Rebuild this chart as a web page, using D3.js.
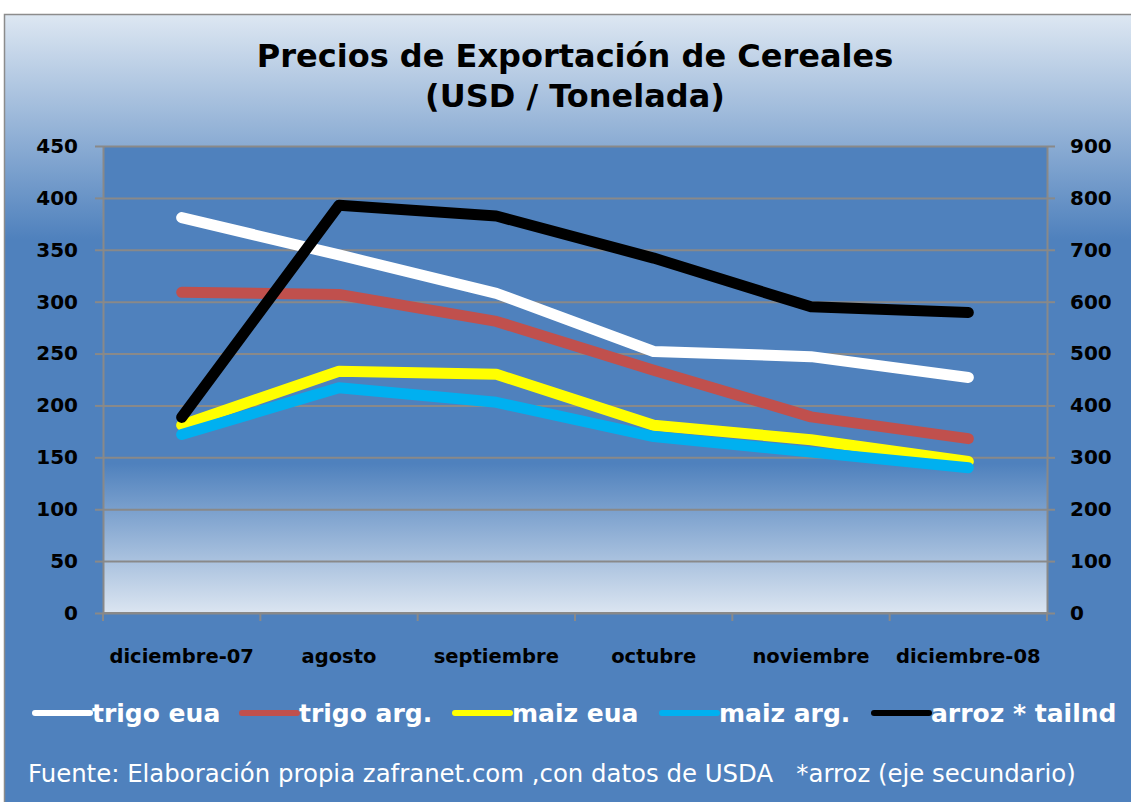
<!DOCTYPE html>
<html>
<head>
<meta charset="utf-8">
<script src="https://cdn.jsdelivr.net/npm/d3@7"></script>
<style>
  body { margin: 0; background: #ffffff; }
  svg { display: block; }
</style>
</head>
<body>
<script>
// datos
var meses = ["diciembre-07", "agosto", "septiembre", "octubre", "noviembre", "diciembre-08"];
var trigoEua  = [381, 345, 308, 252, 247, 227];
var trigoArg  = [309, 307, 281, 234, 189, 168];
var maizEua   = [181, 233, 230, 181, 167, 146];
var maizArg   = [172, 217, 203, 170, 155, 140];
var arroz     = [377, 786, 765, 684, 590, 579]; // eje secundario
var ticksIzq  = [0, 50, 100, 150, 200, 250, 300, 350, 400, 450];
var ticksDer  = [0, 100, 200, 300, 400, 500, 600, 700, 800, 900];

var series = [
  { nombre: "trigo eua",      valores: trigoEua, color: "#ffffff", eje: "izq" },
  { nombre: "trigo arg.",     valores: trigoArg, color: "#c0504d", eje: "izq" },
  { nombre: "maiz eua",       valores: maizEua,  color: "#ffff00", eje: "izq" },
  { nombre: "maiz arg.",      valores: maizArg,  color: "#00b0f0", eje: "izq" },
  { nombre: "arroz * tailnd", valores: arroz,    color: "#000000", eje: "der" }
];

var w = 1131, h = 802;
var pIzq = 103, pDer = 1047, pArriba = 146, pAbajo = 613;
var fuente = "'DejaVu Sans', Verdana, sans-serif";

var svg = d3.select("body").append("svg")
  .attr("width", w)
  .attr("height", h);

var defs = svg.append("defs");
var gFondo = defs.append("linearGradient").attr("id", "fondo")
  .attr("x1", 0).attr("y1", 0).attr("x2", 0).attr("y2", 1);
gFondo.append("stop").attr("offset", 0).attr("stop-color", "#dde7f2");
gFondo.append("stop").attr("offset", 0.28).attr("stop-color", "#4f81bd");
gFondo.append("stop").attr("offset", 1).attr("stop-color", "#4f81bd");

var gPlot = defs.append("linearGradient").attr("id", "plot")
  .attr("x1", 0).attr("y1", 0).attr("x2", 0).attr("y2", 1);
gPlot.append("stop").attr("offset", 0).attr("stop-color", "#4f81bd");
gPlot.append("stop").attr("offset", 0.68).attr("stop-color", "#4f81bd");
gPlot.append("stop").attr("offset", 1).attr("stop-color", "#dbe5f1");

// marco exterior
svg.append("rect")
  .attr("x", 4.5).attr("y", 14.5)
  .attr("width", w + 10).attr("height", h)
  .attr("fill", "url(#fondo)")
  .attr("stroke", "#8c8c8c")
  .attr("stroke-width", 1.5);

// area de trazado
svg.append("rect")
  .attr("x", pIzq).attr("y", pArriba)
  .attr("width", pDer - pIzq).attr("height", pAbajo - pArriba)
  .attr("fill", "url(#plot)");

// titulo
var titulo = svg.append("text")
  .attr("text-anchor", "middle")
  .attr("font-family", fuente)
  .attr("font-weight", "bold")
  .attr("font-size", "32px")
  .attr("fill", "#000");
titulo.append("tspan").attr("x", 575).attr("y", 67).text("Precios de Exportación de Cereales");
titulo.append("tspan").attr("x", 575).attr("y", 107).text("(USD / Tonelada)");

// escalas
var xScale = d3.scaleBand().domain(meses).range([pIzq, pDer]);
var yIzq = d3.scaleLinear().domain([0, 450]).range([pAbajo, pArriba]);
var yDer = d3.scaleLinear().domain([0, 900]).range([pAbajo, pArriba]);

// lineas de cuadricula
svg.append("g")
  .attr("transform", "translate(" + pIzq + ",0)")
  .call(d3.axisLeft(yIzq).tickValues(ticksIzq).tickSize(-(pDer - pIzq)).tickFormat(""))
  .call(function(g) {
    g.select(".domain").remove();
    g.selectAll("line").attr("stroke", "#898989").attr("stroke-width", 2);
  });

// eje izquierdo
svg.append("g")
  .attr("transform", "translate(" + pIzq + ",0)")
  .call(d3.axisLeft(yIzq).tickValues(ticksIzq).tickSize(8).tickSizeOuter(0).tickPadding(17))
  .call(function(g) {
    g.select(".domain").attr("stroke", "#898989").attr("stroke-width", 2);
    g.selectAll("line").attr("stroke", "#898989").attr("stroke-width", 2);
    g.selectAll("text")
      .attr("font-family", fuente).attr("font-weight", "bold")
      .attr("font-size", "20px").attr("fill", "#000");
  });

// eje derecho
svg.append("g")
  .attr("transform", "translate(" + pDer + ",0)")
  .call(d3.axisRight(yDer).tickValues(ticksDer).tickSize(8).tickSizeOuter(0).tickPadding(15))
  .call(function(g) {
    g.select(".domain").attr("stroke", "#898989").attr("stroke-width", 2);
    g.selectAll("line").attr("stroke", "#898989").attr("stroke-width", 2);
    g.selectAll("text")
      .attr("font-family", fuente).attr("font-weight", "bold")
      .attr("font-size", "20px").attr("fill", "#000");
  });

// eje x: marcas entre categorias
var limites = meses.map(function(d) { return xScale(d); }).concat([pDer]);
svg.append("line")
  .attr("x1", pIzq).attr("x2", pDer)
  .attr("y1", pAbajo).attr("y2", pAbajo)
  .attr("stroke", "#898989").attr("stroke-width", 2);
svg.selectAll(".marcaX")
  .data(limites)
  .enter()
  .append("line")
  .attr("class", "marcaX")
  .attr("x1", function(d) { return d; })
  .attr("x2", function(d) { return d; })
  .attr("y1", pAbajo).attr("y2", pAbajo + 8)
  .attr("stroke", "#898989").attr("stroke-width", 2);

svg.append("g")
  .attr("transform", "translate(0," + pAbajo + ")")
  .call(d3.axisBottom(xScale).tickSize(0).tickPadding(36))
  .call(function(g) {
    g.select(".domain").remove();
    g.selectAll("text")
      .attr("font-family", fuente).attr("font-weight", "bold")
      .attr("font-size", "19.5px").attr("fill", "#000");
  });

// lineas de series
var cx = function(i) { return xScale(meses[i]) + xScale.bandwidth() / 2; };
series.forEach(function(s) {
  var escala = s.eje === "izq" ? yIzq : yDer;
  var linea = d3.line()
    .x(function(d, i) { return cx(i); })
    .y(function(d) { return escala(d); });
  svg.append("path")
    .datum(s.valores)
    .attr("d", linea)
    .attr("fill", "none")
    .attr("stroke", s.color)
    .attr("stroke-width", 11)
    .attr("stroke-linecap", "round")
    .attr("stroke-linejoin", "round");
});

// leyenda
var posLeyenda = [35, 242, 455, 662, 874];
var leyenda = svg.selectAll(".leyenda")
  .data(series)
  .enter()
  .append("g")
  .attr("class", "leyenda")
  .attr("transform", function(d, i) { return "translate(" + posLeyenda[i] + ",713)"; });
leyenda.append("line")
  .attr("x1", 0).attr("x2", 55)
  .attr("y1", 0).attr("y2", 0)
  .attr("stroke", function(d) { return d.color; })
  .attr("stroke-width", 6)
  .attr("stroke-linecap", "round");
leyenda.append("text")
  .attr("x", 57).attr("y", 9)
  .attr("font-family", fuente).attr("font-weight", "bold")
  .attr("font-size", "25px").attr("fill", "#fff")
  .text(function(d) { return d.nombre; });

// nota
svg.append("text")
  .attr("x", 28).attr("y", 782)
  .attr("font-family", fuente)
  .attr("font-size", "24.4px").attr("fill", "#fff")
  .attr("xml:space", "preserve")
  .text("Fuente: Elaboración propia zafranet.com ,con datos de USDA   *arroz (eje secundario)");
</script>
</body>
</html>
